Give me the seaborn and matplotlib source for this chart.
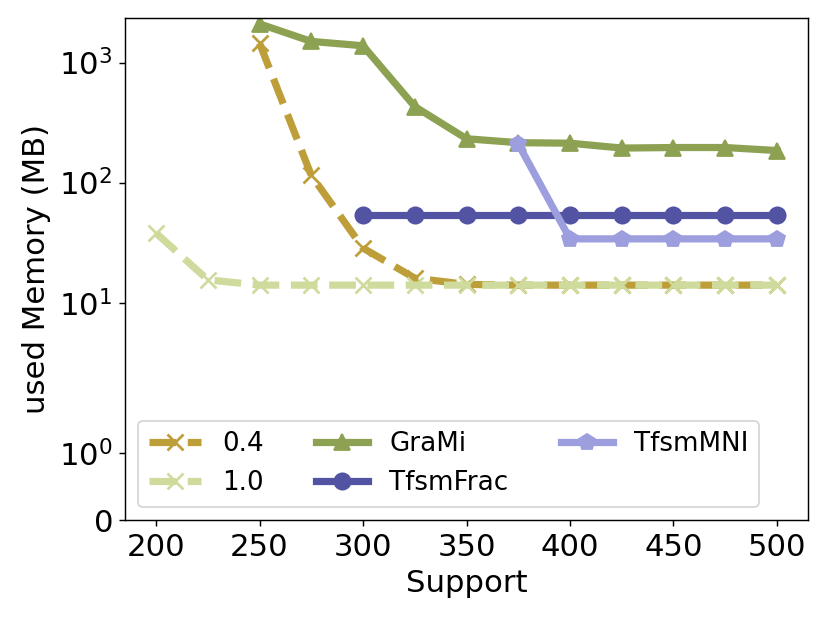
import matplotlib
matplotlib.use("Agg")
import matplotlib.pyplot as plt
import matplotlib.ticker as mticker
import seaborn as sns
import pandas as pd

support = [200, 225, 250, 275, 300, 325, 350, 375, 400, 425, 450, 475, 500]

x_04 = [250, 275, 300, 325, 350, 375, 400, 425, 450, 475, 500]
y_04 = [1450, 115, 28.5, 16, 14.2, 14, 14, 14, 14, 14, 14]

x_10 = support
y_10 = [38, 15.5, 14, 14, 14, 14, 14, 14, 14, 14, 14, 14, 14]

x_grami = [250, 275, 300, 325, 350, 375, 400, 425, 450, 475, 500]
y_grami = [2100, 1500, 1380, 430, 232, 215, 213, 194, 196, 196, 185]

x_frac = [300, 325, 350, 375, 400, 425, 450, 475, 500]
y_frac = [54, 54, 54, 54, 54, 54, 54, 54, 54]

x_mni = [375, 400, 425, 450, 475, 500]
y_mni = [210, 34, 34, 34, 34, 34]

colors = sns.color_palette("tab20b", 20)
c_04 = colors[9]    # #bd9e39
c_10 = colors[7]    # #cedb9c
c_grami = colors[5] # #8ca252
c_frac = colors[1]  # #5254a3
c_mni = colors[3]   # #9c9ede

plt.rcParams['font.size'] = 17
plt.rcParams['font.family'] = ['DejaVu Sans']

fig = plt.figure(figsize=(830 / 130, 623 / 130), dpi=130)
ax = fig.add_axes([125 / 830, 1 - 520 / 623, (808 - 125) / 830, (520 - 18) / 623])

lw = 4
ms = 9
series = [
    ("0.4", x_04, y_04, c_04, "x", "--"),
    ("1.0", x_10, y_10, c_10, "x", "--"),
    ("GraMi", x_grami, y_grami, c_grami, "^", "-"),
    ("TfsmFrac", x_frac, y_frac, c_frac, "o", "-"),
    ("TfsmMNI", x_mni, y_mni, c_mni, "p", "-"),
]
for name, xs, ys, c, m, ls in series:
    df = pd.DataFrame({"Support": xs, "mem": ys})
    sns.lineplot(data=df, x="Support", y="mem", ax=ax, color=c, marker=m,
                 linestyle=ls, linewidth=lw, markersize=ms, label=name,
                 markeredgecolor=c, markeredgewidth=1.5 if m == "x" else 1)

ax.set_yscale("symlog", linthresh=2, linscale=1)
ax.set_ylim(0, 2350)
ax.set_xlim(185, 515)
ax.set_yticks([0, 1, 10, 100, 1000])
ax.yaxis.set_minor_locator(mticker.NullLocator())
ax.set_xticks([200, 250, 300, 350, 400, 450, 500])
ax.set_xlabel("Support", fontsize=17)
ax.set_ylabel("used Memory (MB)", fontsize=17)
ax.tick_params(labelsize=17)

ax.legend(loc="lower left", ncol=3, fontsize=14.5, frameon=True)

fig.savefig("out.png", dpi=130)
